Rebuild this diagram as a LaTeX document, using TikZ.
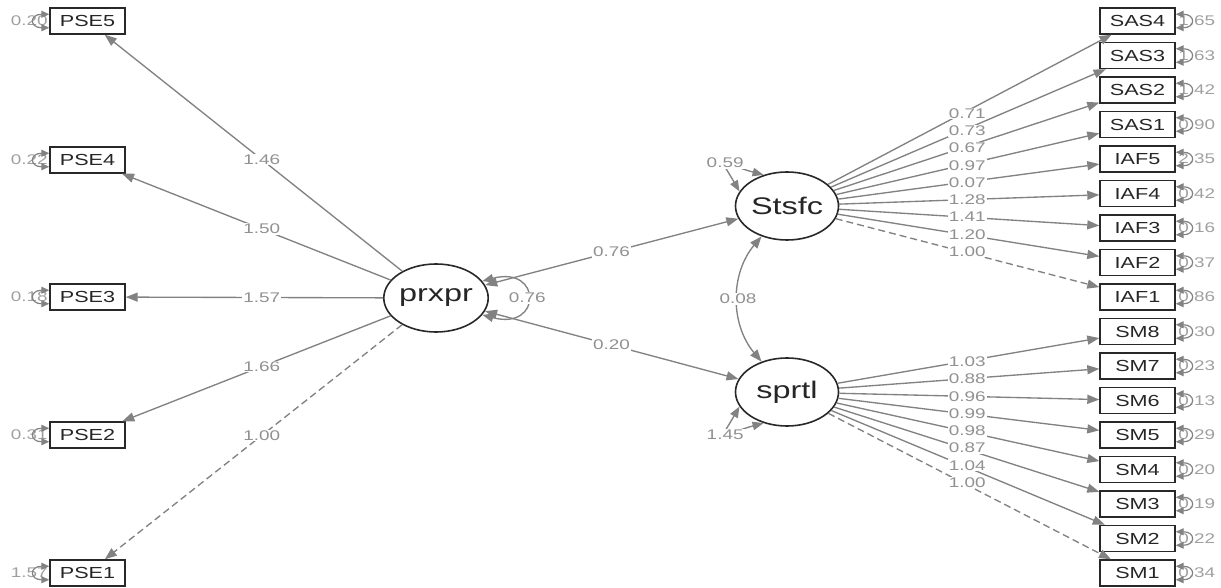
\documentclass[tikz,border=0pt]{standalone}
\usepackage{fontspec}
\setmainfont{Liberation Sans}[FakeStretch=1.35]
\usetikzlibrary{arrows.meta,shapes.geometric}
\definecolor{edgec}{RGB}{130,130,130}
\definecolor{lblc}{RGB}{145,145,145}
\definecolor{resc}{RGB}{160,160,160}
\definecolor{boxc}{RGB}{40,40,40}
\begin{document}
\begin{tikzpicture}[x=1pt,y=1pt,
 manifest/.style={draw=boxc, line width=1.4pt, minimum width=75pt, minimum height=26pt, inner sep=0pt, font=\fontsize{16}{16}\selectfont, text=black!85},
 latent/.style={ellipse, draw=boxc, line width=1.6pt, minimum width=103pt, minimum height=68pt, inner sep=0pt, font=\fontsize{24}{24}\selectfont, text=black!85},
 edge/.style={draw=edgec, line width=1.35pt, -{Triangle[length=12pt,width=9pt]}},
 cov/.style={draw=edgec, line width=1.35pt, {Triangle[length=12pt,width=9pt]}-{Triangle[length=12pt,width=9pt]}},
 fixed/.style={dash pattern=on 7pt off 4pt},
 lbl/.style={fill=white, inner sep=1pt, text=lblc, font=\fontsize{14}{14}\selectfont},
 reslbl/.style={inner sep=0pt, text=resc, font=\fontsize{14}{14}\selectfont},
 resloop/.style={draw=edgec, line width=1.2pt, {Triangle[length=8pt,width=7pt]}-{Triangle[length=8pt,width=7pt]}},
 latloop/.style={draw=edgec, line width=1.35pt, {Triangle[length=11pt,width=8.5pt]}-{Triangle[length=11pt,width=8.5pt]}},
]
\useasboundingbox (0,0) rectangle (1221,587);

% latent variables
\node[latent] (prxpr) at (436,289) {prxpr};
\node[latent] (Stsfc) at (787,381) {Stsfc};
\node[latent] (sprtl) at (787,195) {sprtl};

% left manifest
\node[manifest] (PSE5) at (87.5,566) {PSE5};
\node[manifest] (PSE4) at (87.5,427) {PSE4};
\node[manifest] (PSE3) at (87.5,290) {PSE3};
\node[manifest] (PSE2) at (87.5,152) {PSE2};
\node[manifest] (PSE1) at (87.5,14) {PSE1};

% right manifest
\foreach \n [count=\i from 0] in {SAS4,SAS3,SAS2,SAS1,IAF5,IAF4,IAF3,IAF2,IAF1,SM8,SM7,SM6,SM5,SM4,SM3,SM2,SM1}
  \node[manifest] (\n) at (1137.5,{566-34.5*\i}) {\n};

% loadings prxpr
\foreach \n in {PSE5,PSE4,PSE3,PSE2}
  \draw[edge] (prxpr) -- (\n);
\draw[edge,fixed] (prxpr) -- (PSE1);

% loadings Stsfc
\foreach \n in {SAS4,SAS3,SAS2,SAS1,IAF5,IAF4,IAF3,IAF2}
  \draw[edge] (Stsfc) -- (\n);
\draw[edge,fixed] (Stsfc) -- (IAF1);

% loadings sprtl
\foreach \n in {SM8,SM7,SM6,SM5,SM4,SM3,SM2}
  \draw[edge] (sprtl) -- (\n);
\draw[edge,fixed] (sprtl) -- (SM1);

% structural / covariances
\draw[cov] (prxpr) -- (Stsfc);
\draw[cov] (prxpr) -- (sprtl);
\draw[cov] (Stsfc) to[bend right=40] node[lbl]{0.08} (sprtl);

% edge labels
\foreach \n/\v in {PSE5/1.46,PSE4/1.50,PSE3/1.57,PSE2/1.66,PSE1/1.00}
  \path (prxpr.center) -- node[lbl]{\v} (\n.center);
\foreach \n/\v in {SAS4/0.71,SAS3/0.73,SAS2/0.67,SAS1/0.97,IAF5/0.07,IAF4/1.28,IAF3/1.41,IAF2/1.20,IAF1/1.00}
  \path (Stsfc.center) -- node[lbl,xshift=5pt]{\v} (\n.center);
\foreach \n/\v in {SM8/1.03,SM7/0.88,SM6/0.96,SM5/0.99,SM4/0.98,SM3/0.87,SM2/1.04,SM1/1.00}
  \path (sprtl.center) -- node[lbl,xshift=5pt]{\v} (\n.center);
\path (prxpr.center) -- node[lbl]{0.76} (Stsfc.center);
\path (prxpr.center) -- node[lbl]{0.20} (sprtl.center);

% latent variances
\draw[latloop] (prxpr.20) to[out=15,in=-15,distance=62pt] node[lbl]{0.76} (prxpr.-20);
\draw[latloop] (Stsfc.163) to[out=120,in=165,distance=48pt] node[lbl]{0.59} (Stsfc.127);
\draw[latloop] (sprtl.197) to[out=240,in=195,distance=48pt] node[lbl]{1.45} (sprtl.233);

% residual variances left
\foreach \n/\v in {PSE5/0.20,PSE4/0.22,PSE3/0.18,PSE2/0.31,PSE1/1.57}{
  \node[reslbl] at ([xshift=-20pt]\n.west) {\v};
  \draw[resloop] (\n.170) to[out=180,in=180,distance=20pt] (\n.190);
}
% residual variances right
\foreach \n/\v in {SAS4/1.65,SAS3/1.63,SAS2/1.42,SAS1/0.90,IAF5/2.35,IAF4/0.42,IAF3/0.16,IAF2/0.37,IAF1/0.86,SM8/0.30,SM7/0.23,SM6/0.13,SM5/0.29,SM4/0.20,SM3/0.19,SM2/0.22,SM1/0.34}{
  \node[reslbl] at ([xshift=21pt]\n.east) {\v};
  \draw[resloop] (\n.10) to[out=0,in=0,distance=20pt] (\n.-10);
}
\end{tikzpicture}
\end{document}
